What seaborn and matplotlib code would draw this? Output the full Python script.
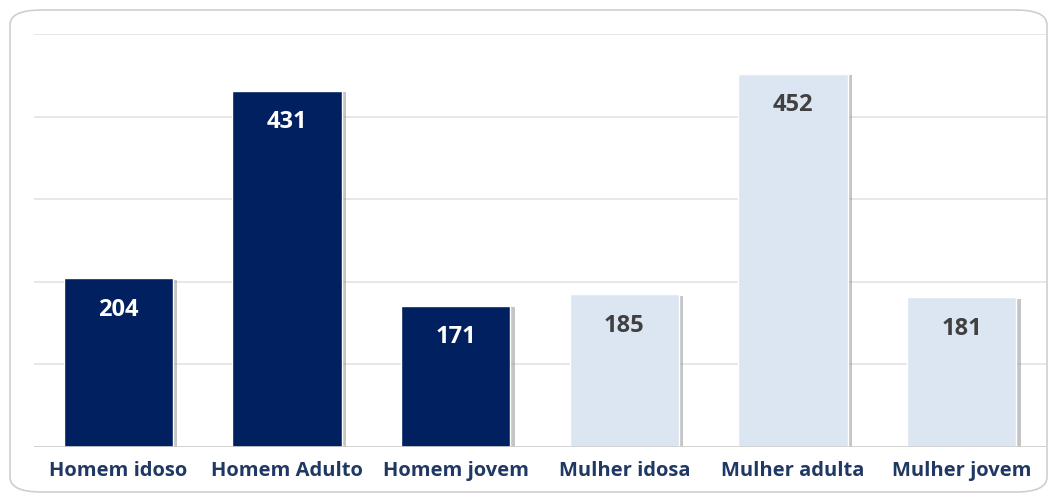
import matplotlib
matplotlib.use("Agg")
import matplotlib.pyplot as plt
import matplotlib.patheffects as pe
from matplotlib.patches import FancyBboxPatch
import seaborn as sns
import pandas as pd

categories = ["Homem idoso", "Homem Adulto", "Homem jovem", "Mulher idosa", "Mulher adulta", "Mulher jovem"]
values = [204, 431, 171, 185, 452, 181]
bar_colors = ["#002060", "#002060", "#002060", "#DCE6F2", "#DCE6F2", "#DCE6F2"]
text_colors = ["white", "white", "white", "#404040", "#404040", "#404040"]

df = pd.DataFrame({"grupo": categories, "total": values})

sns.set_theme(style="white")
plt.rcParams["font.family"] = ["Open Sans", "DejaVu Sans"]

fig = plt.figure(figsize=(10.5, 4.97), dpi=100)
ax = fig.add_axes([34 / 1050, 50 / 497, 1012 / 1050, 413 / 497])

# rounded frame around the chart
frame = FancyBboxPatch((10 / 1050, 5 / 497), 1037 / 1050, 482 / 497,
                       boxstyle="round,pad=0,rounding_size=0.03",
                       transform=fig.transFigure, facecolor="white",
                       edgecolor="#cfcfcf", linewidth=1.2, zorder=-10)
fig.patches.append(frame)
ax.patch.set_alpha(0)

sns.barplot(data=df, x="grupo", y="total", hue="grupo", palette=bar_colors,
            width=0.65, legend=False, ax=ax, saturation=1, zorder=3)

for bar in ax.patches:
    bar.set_path_effects([pe.SimplePatchShadow(offset=(3, -1), shadow_rgbFace="#7f7f7f", alpha=0.45),
                          pe.Normal()])

ax.set_ylim(0, 500)
ax.set_xlim(-0.5, 5.5)
ax.set_yticks(range(0, 501, 100))
ax.yaxis.grid(True, color="#e3e3e3", linewidth=1.2, zorder=0)
ax.axhline(0, color="#d0d0d0", linewidth=1.2, zorder=4)
ax.set_yticklabels([])
ax.tick_params(axis="y", length=0)
ax.tick_params(axis="x", length=0, pad=21)
for s in ax.spines.values():
    s.set_visible(False)
ax.set_xlabel("")
ax.set_ylabel("")
for lbl in ax.get_xticklabels():
    lbl.set_fontweight("bold")
    lbl.set_color("#1F3864")
    lbl.set_fontsize(14.5)
    lbl.set_verticalalignment("baseline")

for i, v in enumerate(values):
    ax.text(i, v - 38, str(v), ha="center", va="center", fontsize=17,
            fontweight="bold", color=text_colors[i], zorder=5)

fig.savefig("out.png", dpi=100)
